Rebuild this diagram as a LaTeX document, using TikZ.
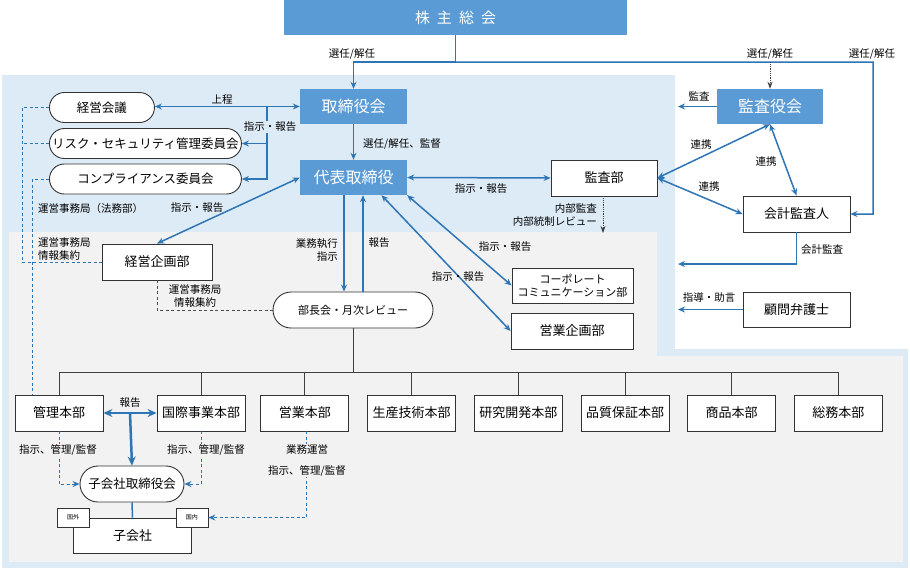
\documentclass[tikz,border=0pt]{standalone}
\usepackage{fontspec}
\setmainfont{Noto Sans CJK JP}
\usepackage{tikz}
\usetikzlibrary{
    arrows.meta,
    positioning,
    calc,
    shapes.misc
}

\definecolor{boxblue}{HTML}{5B9BD5}
\definecolor{lineblue}{HTML}{2E75B6}
\definecolor{bgblue}{HTML}{DDEBF7}
\definecolor{bggray}{HTML}{F2F2F2}

\begin{document}
\begin{tikzpicture}[
            x=1pt, y=-1pt,
            node distance=17.8pt,
            organ_block/.style={rectangle, fill=boxblue, text=white, minimum width=107pt, minimum height=35pt, inner sep=2pt, font=\fontsize{16}{18}\selectfont},
            dept_block/.style={rectangle, draw=black!80, line width=0.9pt, fill=white, minimum width=106pt, minimum height=36pt, inner sep=2pt, font=\fontsize{13}{15}\selectfont},
            hq_block/.style={dept_block, minimum width=88pt},
            meeting_node/.style={rounded rectangle, draw=black!80, line width=0.9pt, fill=white, minimum height=30pt, inner sep=2pt, font=\fontsize{12.5}{14}\selectfont},
            tag_box/.style={rectangle, draw=black!80, line width=0.8pt, fill=white, minimum width=32pt, minimum height=19pt, inner sep=1pt, font=\fontsize{6}{7}\selectfont},
            edge_label/.style={inner sep=1pt, font=\fontsize{10.5}{13}\selectfont, text=black},
            main_flow_arrow/.style={-{Stealth[length=7pt, width=6pt]}, line width=1.5pt, lineblue},
            both_flow_arrow/.style={{Stealth[length=7pt, width=6pt]}-{Stealth[length=7pt, width=6pt]}, line width=1.5pt, lineblue},
            strong_arrow/.style={-{Stealth[length=9pt, width=8pt]}, line width=2.5pt, lineblue},
            strong_both_arrow/.style={{Stealth[length=9pt, width=8pt]}-{Stealth[length=9pt, width=8pt]}, line width=2.5pt, lineblue},
            info_dash/.style={dash pattern=on 3pt off 2.5pt, line width=1pt, lineblue},
            info_dash_arrow/.style={info_dash, -{Stealth[length=7pt, width=6pt]}},
            gray_dash/.style={dash pattern=on 3pt off 2.5pt, line width=1pt, black!70},
            audit_dot_arrow/.style={densely dotted, line width=0.8pt, black!75, -{Stealth[length=7pt, width=5pt]}},
            bus_line/.style={line width=1pt, black!75}
        ]
    \useasboundingbox (0,0) rectangle (910,571);

    % background areas
    \fill[bgblue] (2,75) rectangle (908,568);
    \fill[white] (675,75) rectangle (908,349);
    \fill[bggray] (9,232) rectangle (657,357);
    \fill[bggray] (9,356) rectangle (903,562);

    \node[organ_block, minimum width=343pt, font=\fontsize{15}{18}\selectfont] (shareholders) at (455.5,17.5) {株\hspace{7pt}主\hspace{7pt}総\hspace{7pt}会};
    \node[organ_block] (board) at (353.5,106.5) {取締役会};
    \node[organ_block] (ceo) at (353.5,177.5) {代表取締役};
    \node[organ_block, minimum width=106pt] (kansayaku) at (770,106.5) {監査役会};

    \node[meeting_node, anchor=west, minimum width=109pt] (mgmt_meeting) at (49,107.5) {経営会議};
    \node[meeting_node, anchor=west, minimum width=196pt] (risk_comm) at (49,143.5) {リスク・セキュリティ管理委員会};
    \node[meeting_node, anchor=west, minimum width=196pt] (compliance_comm) at (49,179) {コンプライアンス委員会};

    \node[dept_block, minimum width=110pt] (planning) at (157,262) {経営企画部};
    \node[meeting_node, minimum width=164pt, minimum height=36pt, font=\fontsize{11}{13}\selectfont] (dept_review) at (353,310) {部長会・月次レビュー};

    \node[dept_block] (audit_dept) at (604,178) {監査部};
    \node[dept_block, minimum width=107pt] (acct_auditor) at (796.5,214) {会計監査人};
    \node[dept_block, minimum width=107pt, minimum height=35pt] (counsel) at (796.5,309.5) {顧問弁護士};
    \node[dept_block, minimum width=121pt, minimum height=35pt, align=center, font=\fontsize{11}{13}\selectfont] (corp_comm) at (572.5,285.5) {コーポレート\\コミュニケーション部};
    \node[dept_block, minimum width=122pt] (sales_planning) at (572,331) {営業企画部};

    \node[hq_block] (admin_hq) at (59,413) {管理本部};
    \node[hq_block] (intl_hq) at (201,413) {国際事業本部};
    \node[hq_block, right=15pt of intl_hq] (sales_hq) {営業本部};
    \node[hq_block, right=of sales_hq] (prod_hq) {生産技術本部};
    \node[hq_block, right=of prod_hq] (rnd_hq) {研究開発本部};
    \node[hq_block, right=of rnd_hq] (quality_hq) {品質保証本部};
    \node[hq_block, right=of quality_hq] (goods_hq) {商品本部};
    \node[hq_block, right=of goods_hq] (general_hq) {総務本部};

    \node[meeting_node, minimum width=108pt, minimum height=36pt] (sub_board) at (132,484) {子会社取締役会};
    \node[dept_block, minimum width=118pt, minimum height=35pt] (subsidiary) at (132.5,535.5) {子会社};

    % shareholders
    \coordinate (sh_split) at ($(shareholders.south)+(0,27)$);
    \coordinate (right_rail) at (873,62);
    \draw[main_flow_arrow] (shareholders.south) -- (sh_split) -| (board.north);
    \draw[main_flow_arrow] (sh_split) -- (right_rail) |- (acct_auditor.east);
    \draw[audit_dot_arrow] (sh_split -| kansayaku.north) -- (kansayaku.north);
    \node[edge_label] (elect_board) at (352,54) {選任/解任};
    \node[edge_label] (elect_kansa) at (770,54) {選任/解任};
    \node[edge_label] (elect_acct) at (872,54) {選任/解任};

    % board and committees
    \draw[main_flow_arrow] (board.south) -- (ceo.north);
    \node[edge_label, anchor=west] (appoint_lbl) at (362,144) {選任/解任、監督};
    \draw[both_flow_arrow] (board.west) -- (board.west -| mgmt_meeting.east);
    \node[edge_label] (submit_lbl) at (222,100) {上程};
    \coordinate (report_split) at (267,106.5);
    \draw[main_flow_arrow] (report_split) |- (risk_comm.east);
    \draw[main_flow_arrow] (report_split) |- (compliance_comm.east);
    \node[edge_label, fill=bgblue] (comm_lbl) at (270,127) {指示・報告};

    \draw[info_dash] (mgmt_meeting.west) -- ++(-27,0) |- (planning.west);
    \draw[info_dash] (risk_comm.west) -- ++(-27,0);
    \draw[info_dash] (compliance_comm.west) -| ($(admin_hq.north west)+(18,0)$);
    \node[edge_label, anchor=west] (legal_lbl) at (37,209) {運営事務局（法務部）};
    \node[edge_label, anchor=west, align=left] (office_lbl1) at (37,249.5) {運営事務局\\情報集約};

    \draw[both_flow_arrow] (planning.north) -- (ceo.west);
    \node[edge_label] (plan_lbl) at (197,208) {指示・報告};
    \draw[gray_dash] (planning.south) |- (dept_review.west);
    \node[edge_label, align=center] (office_lbl2) at (195,296) {運営事務局\\情報集約};

    \draw[main_flow_arrow] ([xshift=-9.5pt]ceo.south) -- ([xshift=-9.5pt]ceo.south |- dept_review.north);
    \draw[main_flow_arrow] ([xshift=9.5pt]ceo.south |- dept_review.north) -- ([xshift=9.5pt]ceo.south);
    \node[edge_label, anchor=east, align=right] (exec_lbl) at (339,250) {業務執行\\指示};
    \node[edge_label] (review_lbl) at (379,243) {報告};

    % audit side
    \draw[both_flow_arrow] (ceo.east) -- (audit_dept.west);
    \node[edge_label] (audit_lbl) at (481,189) {指示・報告};
    \coordinate (audit_drop) at (603,233);
    \draw[audit_dot_arrow] (audit_dept.south -| audit_drop) -- (audit_drop);
    \node[edge_label, anchor=east, align=right] (internal_lbl) at (598,215.5) {内部監査\\内部統制レビュー};

    \draw[both_flow_arrow] (ceo.south east) -- (corp_comm.west);
    \draw[both_flow_arrow] ([xshift=28pt]ceo.south) -- (sales_planning.west);
    \node[edge_label] (cc_lbl) at (505,247) {指示・報告};
    \node[edge_label] (sp_lbl) at (458,277) {指示・報告};

    \coordinate (kansa_target) at (678,106.5);
    \draw[main_flow_arrow] (kansayaku.west) -- (kansa_target);
    \node[edge_label] (kansa_lbl) at (699,96) {監査};
    \draw[both_flow_arrow] (audit_dept.east) -- (kansayaku.south);
    \draw[both_flow_arrow] (kansayaku.south) -- (acct_auditor.north);
    \draw[both_flow_arrow] (audit_dept.east) -- (acct_auditor.west);
    \node[edge_label] (link_lbl1) at (701,145) {連携};
    \node[edge_label] (link_lbl2) at (766,162) {連携};
    \node[edge_label] (link_lbl3) at (709,187) {連携};

    \coordinate (acct_target) at (678,264);
    \draw[main_flow_arrow] (acct_auditor.south) |- (acct_target);
    \node[edge_label] (acct_lbl) at (822,250) {会計監査};
    \coordinate (counsel_target) at (678,309.5);
    \draw[main_flow_arrow] (counsel.west) -- (counsel_target);
    \node[edge_label] (advice_lbl) at (709,298) {指導・助言};

    % headquarters bus
    \coordinate (bus_mid) at ($(dept_review.south)+(0,44)$);
    \draw[bus_line] (dept_review.south) -- (bus_mid);
    \draw[bus_line] (admin_hq.north |- bus_mid) -- (general_hq.north |- bus_mid);
    \foreach \hq in {admin_hq, intl_hq, sales_hq, prod_hq, rnd_hq, quality_hq, goods_hq, general_hq}
        \draw[bus_line] (\hq.north) -- (\hq.north |- bus_mid);

    % subsidiaries
    \draw[strong_both_arrow] (admin_hq.east) -- (intl_hq.west);
    \coordinate (report_mid) at ($(admin_hq.east)!0.5!(intl_hq.west)$);
    \draw[strong_arrow] (report_mid) -- (sub_board.north);
    \node[edge_label] (hq_report_lbl) at (130,403) {報告};

    \draw[info_dash_arrow] (admin_hq.south) |- (sub_board.west);
    \draw[info_dash_arrow] (intl_hq.south) |- (sub_board.east);
    \node[edge_label, fill=bggray] (admin_lbl) at (58,450) {指示、管理/監督};
    \node[edge_label, fill=bggray] (intl_lbl) at (206,450) {指示、管理/監督};

    \draw[lineblue, line width=1.5pt] (sub_board.south) -- (subsidiary.north);
    \node[tag_box] (overseas_tag) at (subsidiary.north west) {国外};
    \node[tag_box] (domestic_tag) at (subsidiary.north east) {国内};

    \draw[info_dash_arrow] ([xshift=2pt]sales_hq.south) |- (domestic_tag.east);
    \node[edge_label, fill=bggray, align=center, font=\fontsize{10.5}{21}\selectfont] (sales_lbl) at (307,460.5) {業務運営\\指示、管理/監督};

\end{tikzpicture}
\end{document}
